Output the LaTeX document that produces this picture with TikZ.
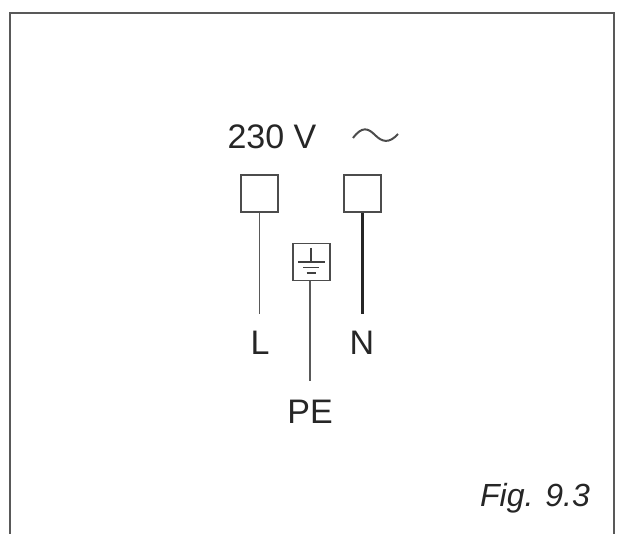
\documentclass[tikz,border=0pt]{standalone}
\usepackage{fontspec}
\setmainfont{Liberation Sans}
\begin{document}
\begin{tikzpicture}[x=1pt,y=-1pt,
  term/.style={draw=black!70,line width=1.6pt,minimum width=37pt,minimum height=37pt,inner sep=0pt},
  wire/.style={draw=black!65,line width=1.9pt},
  lbl/.style={font=\fontsize{34}{34}\selectfont,text=black!85,inner sep=0pt}]
\useasboundingbox (0,0) rectangle (618,534);
\fill[white] (0,0) rectangle (618,534);
\draw[black!65,line width=1.5pt] (10,540) -- (10,13) -- (614,13) -- (614,540);
\node[term] (tL) at (259.5,193.5) {};
\node[term] (tN) at (362.5,193.5) {};
\node[term] (tPE) at (311.5,262) {};
\coordinate (eL) at (259.5,314);
\coordinate (eN) at (362.5,314);
\coordinate (ePE) at (310,381);
\draw[wire] (tL.south) -- (eL);
\draw[wire,line width=3pt,draw=black!85] (tN.south) -- (eN);
\draw[wire] (tPE.south -| ePE) -- (ePE);
% earth symbol
\draw[black!75,line width=1.3pt] (311,248) -- (311,262);
\draw[black!75,line width=1.4pt] (298,262) -- (325,262);
\draw[black!75,line width=1.7pt] (303,267.5) -- (319,267.5);
\draw[black!75,line width=2.6pt] (306.5,273) -- (315.5,273);
\node[lbl] (L) at (260,343) {L};
\node[lbl] (N) at (362,343) {N};
\node[lbl] (PE) at (310,412) {PE};
\node[lbl] (V) at (272,137) {230 V};
\draw[black!70,line width=2pt] (353,138) .. controls (362,126) and (368,128) .. (375,135) .. controls (382,142) and (389,144) .. (398,134);
\node[lbl,font=\fontsize{32}{32}\selectfont\itshape] (fig) at (535,498) {Fig. 9.3};
\end{tikzpicture}
\end{document}
